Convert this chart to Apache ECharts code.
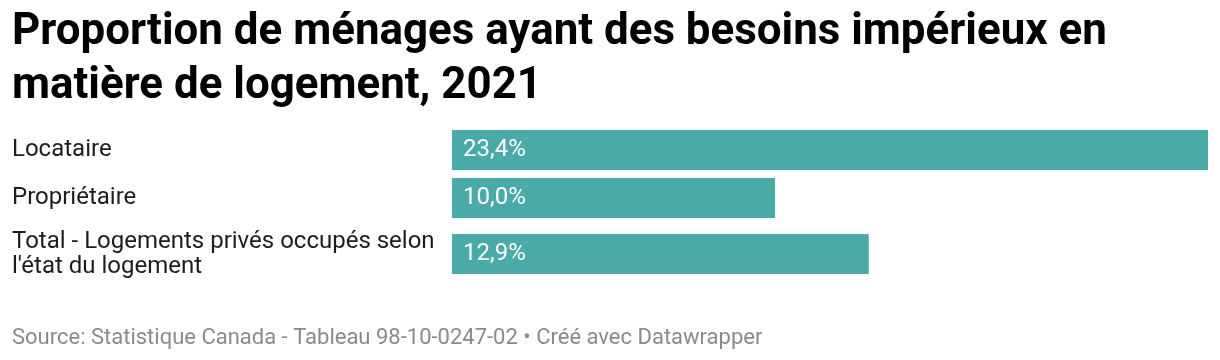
<!DOCTYPE html>
<html><head><meta charset="utf-8">
<script src="https://cdn.jsdelivr.net/npm/echarts@6/dist/echarts.min.js"></script>
<style>html,body{margin:0;padding:0;background:#fff}#c{width:1220px;height:360px}</style>
</head><body><div id="c"></div>
<script>
const titleText = "Proportion de ménages ayant des besoins impérieux en matière de logement, 2021";
const sourceText = "Source: Statistique Canada - Tableau 98-10-0247-02 • Créé avec Datawrapper";
const categories = ["Locataire", "Propriétaire", "Total - Logements privés occupés selon\nl'état du logement"];
const values = [23.4, 10.0, 12.9];

const rowTops = [130, 178, 234];
const maxVal = Math.max(...values);
const FONT = "Roboto";
const grids = [], xAxes = [], yAxes = [], series = [];
categories.forEach((c, i) => {
  grids.push({left: 452, right: 12, top: rowTops[i], height: 40});
  xAxes.push({type: 'value', gridIndex: i, min: 0, max: maxVal, show: false});
  yAxes.push({type: 'category', gridIndex: i, data: [c],
    axisLine: {show: false}, axisTick: {show: false},
    axisLabel: {align: 'left', margin: 440,
      fontFamily: FONT, fontSize: 24, color: '#1d1d1d', lineHeight: 25}});
  series.push({type: 'bar', xAxisIndex: i, yAxisIndex: i, data: [values[i]],
    barWidth: 40, itemStyle: {color: '#49aaa8'}, silent: true,
    label: {show: true, position: 'insideLeft', distance: 11, color: '#fff',
      fontFamily: FONT, fontSize: 24,
      formatter: p => p.value.toFixed(1).replace('.', ',') + '%'}});
});
const chart = echarts.init(document.getElementById('c'), null, {renderer: 'canvas'});
chart.setOption({
  animation: false,
  title: [{text: titleText, left: 12, top: 6, padding: 0,
    textStyle: {fontFamily: FONT, fontWeight: 'bold', fontSize: 43.9, color: '#000', lineHeight: 54, width: 1200, overflow: 'break'}},
    {text: sourceText, left: 12, top: 327, padding: 0,
    textStyle: {fontFamily: FONT, fontWeight: 'normal', fontSize: 22, color: '#8a8a8a'}}],
  grid: grids, xAxis: xAxes, yAxis: yAxes, series: series
});
</script></body></html>
